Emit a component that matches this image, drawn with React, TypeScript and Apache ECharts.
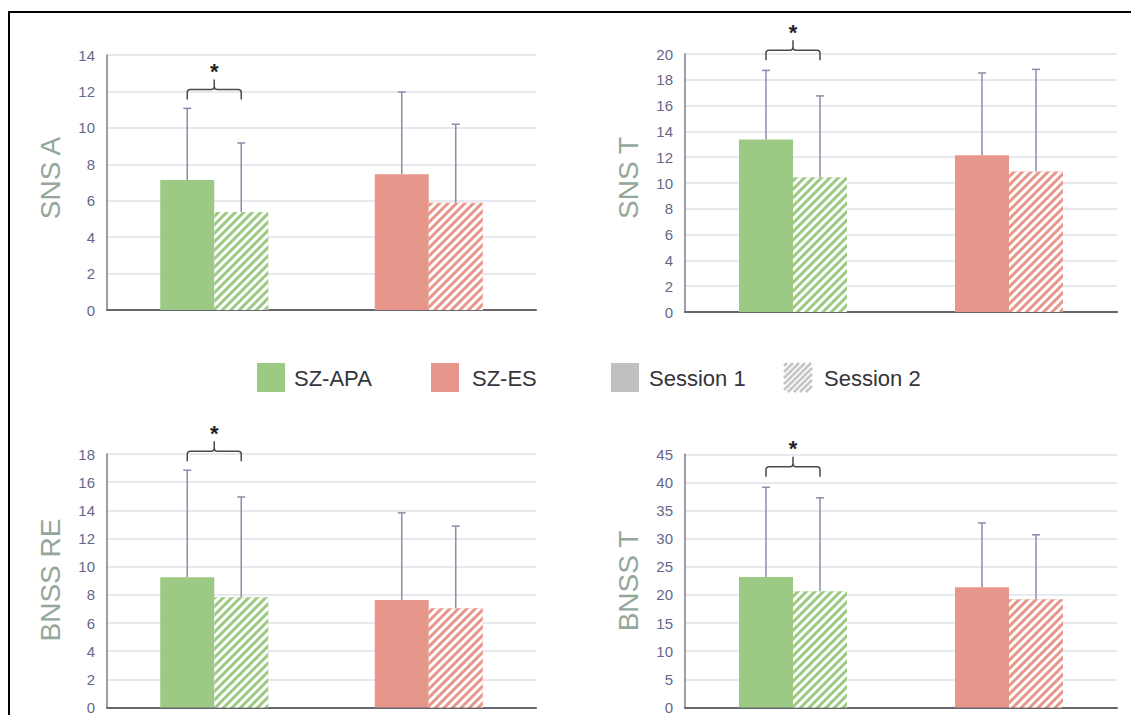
import React, { useEffect, useRef } from 'react';
import * as echarts from 'echarts';

// ---------- data ----------
const categories = ['SZ-APA', 'SZ-ES'];
const groupColors = ['#9CC983', '#E6968A'];

const snsAS1 = [7.14, 7.45];
const snsAS2 = [5.38, 5.89];
const snsASd1 = [3.93, 4.52];
const snsASd2 = [3.79, 4.31];

const snsTS1 = [13.37, 12.15];
const snsTS2 = [10.45, 10.89];
const snsTSd1 = [5.36, 6.38];
const snsTSd2 = [6.3, 7.92];

const bnssReS1 = [9.24, 7.64];
const bnssReS2 = [7.83, 7.05];
const bnssReSd1 = [7.61, 6.18];
const bnssReSd2 = [7.12, 5.83];

const bnssTS1 = [23.18, 21.36];
const bnssTS2 = [20.65, 19.24];
const bnssTSd1 = [15.95, 11.44];
const bnssTSd2 = [16.61, 11.45];

const panelTitles = ['SNS A', 'SNS T', 'BNSS RE', 'BNSS T'];
const axisMax = [14, 20, 18, 45];
const axisInterval = [2, 2, 2, 5];
const sigLevels = [12.1, 20.3, 18.2, 42.8];
const legendLabels = ['SZ-APA', 'SZ-ES', 'Session 1', 'Session 2'];

const panelData = [
  { s1: snsAS1, s2: snsAS2, sd1: snsASd1, sd2: snsASd2 },
  { s1: snsTS1, s2: snsTS2, sd1: snsTSd1, sd2: snsTSd2 },
  { s1: bnssReS1, s2: bnssReS2, sd1: bnssReSd1, sd2: bnssReSd2 },
  { s1: bnssTS1, s2: bnssTS2, sd1: bnssTSd1, sd2: bnssTSd2 },
];

// ---------- layout / style ----------
const FONT = '"Liberation Sans", Arial, Helvetica, sans-serif';
const BAR_W = 54;
const grids = [
  { left: 107, top: 55, width: 429, height: 255 },
  { left: 685, top: 54, width: 432, height: 258 },
  { left: 107, top: 454, width: 429, height: 255.5 },
  { left: 685, top: 454.3, width: 432, height: 255.7 },
];
const titlePos = [
  [50, 178],
  [628, 178],
  [50, 580],
  [628, 581],
];
const ERR_COLOR = '#8c8caa';

function hatchLines(x0: number, y0: number, w: number, h: number, step: number) {
  const out: any[] = [];
  const x1 = x0 + w;
  const y1 = y0 + h;
  for (let c = x0 + y0 + step / 2; c < x1 + y1; c += step) {
    const pts: number[][] = [];
    let y = c - x0;
    if (y >= y0 && y <= y1) pts.push([x0, y]);
    y = c - x1;
    if (y >= y0 && y <= y1) pts.push([x1, y]);
    let x = c - y0;
    if (x > x0 && x < x1) pts.push([x, y0]);
    x = c - y1;
    if (x > x0 && x < x1) pts.push([x, y1]);
    if (pts.length >= 2) {
      out.push({
        type: 'line',
        shape: { x1: pts[0][0], y1: pts[0][1], x2: pts[1][0], y2: pts[1][1] },
        style: { stroke: '#c6c6c6', lineWidth: 2.6 },
      });
    }
  }
  return out;
}

export default function App() {
  const ref = useRef<HTMLDivElement>(null);

  useEffect(() => {
    if (!ref.current) return;
    const chart = echarts.init(ref.current, undefined, { renderer: 'svg' });

    const xAxis: any[] = [];
    const yAxis: any[] = [];
    const series: any[] = [];

    panelData.forEach((p, i) => {
      xAxis.push({
        type: 'category',
        gridIndex: i,
        data: categories,
        axisLine: { show: true, lineStyle: { color: '#66666e', width: 2 } },
        axisTick: { show: false },
        axisLabel: { show: false },
        splitLine: { show: false },
      });
      yAxis.push({
        type: 'value',
        gridIndex: i,
        min: 0,
        max: axisMax[i],
        interval: axisInterval[i],
        axisLine: { show: true, lineStyle: { color: '#7c7c88', width: 1.5 } },
        axisTick: { show: false },
        axisLabel: { color: '#66668a', fontSize: 15, margin: 12, fontFamily: FONT },
        splitLine: { show: true, lineStyle: { color: '#e0e0ea', width: 1.5 } },
      });
      series.push({
        type: 'bar',
        name: 'Session 1',
        xAxisIndex: i,
        yAxisIndex: i,
        barWidth: BAR_W,
        barGap: '0%',
        z: 2,
        data: p.s1.map((v, k) => ({ value: v, itemStyle: { color: groupColors[k] } })),
      });
      series.push({
        type: 'bar',
        name: 'Session 2',
        xAxisIndex: i,
        yAxisIndex: i,
        barWidth: BAR_W,
        barGap: '0%',
        z: 2,
        itemStyle: {
          decal: {
            symbol: 'rect',
            symbolSize: 1,
            color: '#ffffff',
            dashArrayX: [1, 0],
            dashArrayY: [2.6, 2.9],
            rotation: -Math.PI / 4,
          },
        },
        data: p.s2.map((v, k) => ({ value: v, itemStyle: { color: groupColors[k] } })),
      });
      const errData: number[][] = [];
      categories.forEach((_, k) => {
        errData.push([k, p.s1[k], p.sd1[k], 0]);
        errData.push([k, p.s2[k], p.sd2[k], 1]);
      });
      series.push({
        type: 'custom',
        xAxisIndex: i,
        yAxisIndex: i,
        z: 3,
        silent: true,
        encode: { x: 0, y: 1 },
        data: errData,
        renderItem: (params: any, api: any) => {
          const cat = api.value(0);
          const mean = api.value(1);
          const sd = api.value(2);
          const s = api.value(3);
          const base = api.coord([cat, mean]);
          const top = api.coord([cat, mean + sd]);
          const x = base[0] + (s === 0 ? -BAR_W / 2 : BAR_W / 2);
          const st = { stroke: ERR_COLOR, lineWidth: 1.5 };
          return {
            type: 'group',
            children: [
              { type: 'line', shape: { x1: x, y1: base[1], x2: x, y2: top[1] }, style: st },
              { type: 'line', shape: { x1: x - 4, y1: top[1], x2: x + 4, y2: top[1] }, style: st },
            ],
          };
        },
      });
      series.push({
        type: 'custom',
        xAxisIndex: i,
        yAxisIndex: i,
        z: 4,
        silent: true,
        clip: false,
        encode: { x: 0, y: 1 },
        data: [[0, sigLevels[i]]],
        renderItem: (params: any, api: any) => {
          const c = api.coord([api.value(0), api.value(1)]);
          const xm = c[0];
          const x1 = xm - BAR_W / 2;
          const x2 = xm + BAR_W / 2;
          const y0 = c[1];
          const d =
            `M${x1} ${y0 + 10} L${x1} ${y0 + 3} Q${x1} ${y0} ${x1 + 3} ${y0} ` +
            `L${xm - 3} ${y0} Q${xm} ${y0} ${xm} ${y0 - 3} L${xm} ${y0 - 10} ` +
            `M${xm} ${y0 - 3} Q${xm} ${y0} ${xm + 3} ${y0} L${x2 - 3} ${y0} ` +
            `Q${x2} ${y0} ${x2} ${y0 + 3} L${x2} ${y0 + 10}`;
          return {
            type: 'group',
            children: [
              {
                type: 'path',
                shape: { pathData: d },
                style: { stroke: '#4a4a4a', lineWidth: 1.5, fill: 'none' },
              },
              {
                type: 'text',
                x: xm,
                y: y0 - 18,
                style: {
                  text: '*',
                  fill: '#222222',
                  font: `bold 22px ${FONT}`,
                  align: 'center',
                  verticalAlign: 'middle',
                },
              },
            ],
          };
        },
      });
    });

    const graphic: any[] = [];
    panelTitles.forEach((t, i) => {
      graphic.push({
        type: 'text',
        x: titlePos[i][0],
        y: titlePos[i][1],
        rotation: Math.PI / 2,
        style: {
          text: t,
          fill: '#93a898',
          font: `28px ${FONT}`,
          align: 'center',
          verticalAlign: 'middle',
          textAlign: 'center',
          textVerticalAlign: 'middle',
        },
      });
    });

    const legendBoxes = [
      { x: 257, fill: groupColors[0] },
      { x: 431, fill: groupColors[1] },
      { x: 611, fill: '#c0c0c0' },
      { x: 784, fill: null },
    ];
    const legendTextX = [294, 472, 649, 824];
    legendBoxes.forEach((b, i) => {
      if (b.fill) {
        graphic.push({
          type: 'rect',
          shape: { x: b.x, y: 363, width: 28, height: 29 },
          style: { fill: b.fill },
        });
      } else {
        graphic.push({ type: 'group', children: hatchLines(b.x, 363, 28, 29, 6) });
      }
      graphic.push({
        type: 'text',
        x: legendTextX[i],
        y: 378,
        style: {
          text: legendLabels[i],
          fill: '#34343c',
          font: `22px ${FONT}`,
          align: 'left',
          verticalAlign: 'middle',
          textAlign: 'left',
          textVerticalAlign: 'middle',
        },
      });
    });

    graphic.push({
      type: 'rect',
      z: 100,
      shape: { x: 9, y: 12, width: 1200, height: 800 },
      style: { fill: 'none', stroke: '#000000', lineWidth: 2 },
    });

    chart.setOption({
      animation: false,
      backgroundColor: '#ffffff',
      grid: grids.map((g) => ({ ...g, containLabel: false })),
      xAxis,
      yAxis,
      series,
      graphic,
    });

    return () => {
      chart.dispose();
    };
  }, []);

  return (
    <div
      ref={ref}
      style={{ position: 'absolute', left: 0, top: 0, width: 1131, height: 715 }}
    />
  );
}
